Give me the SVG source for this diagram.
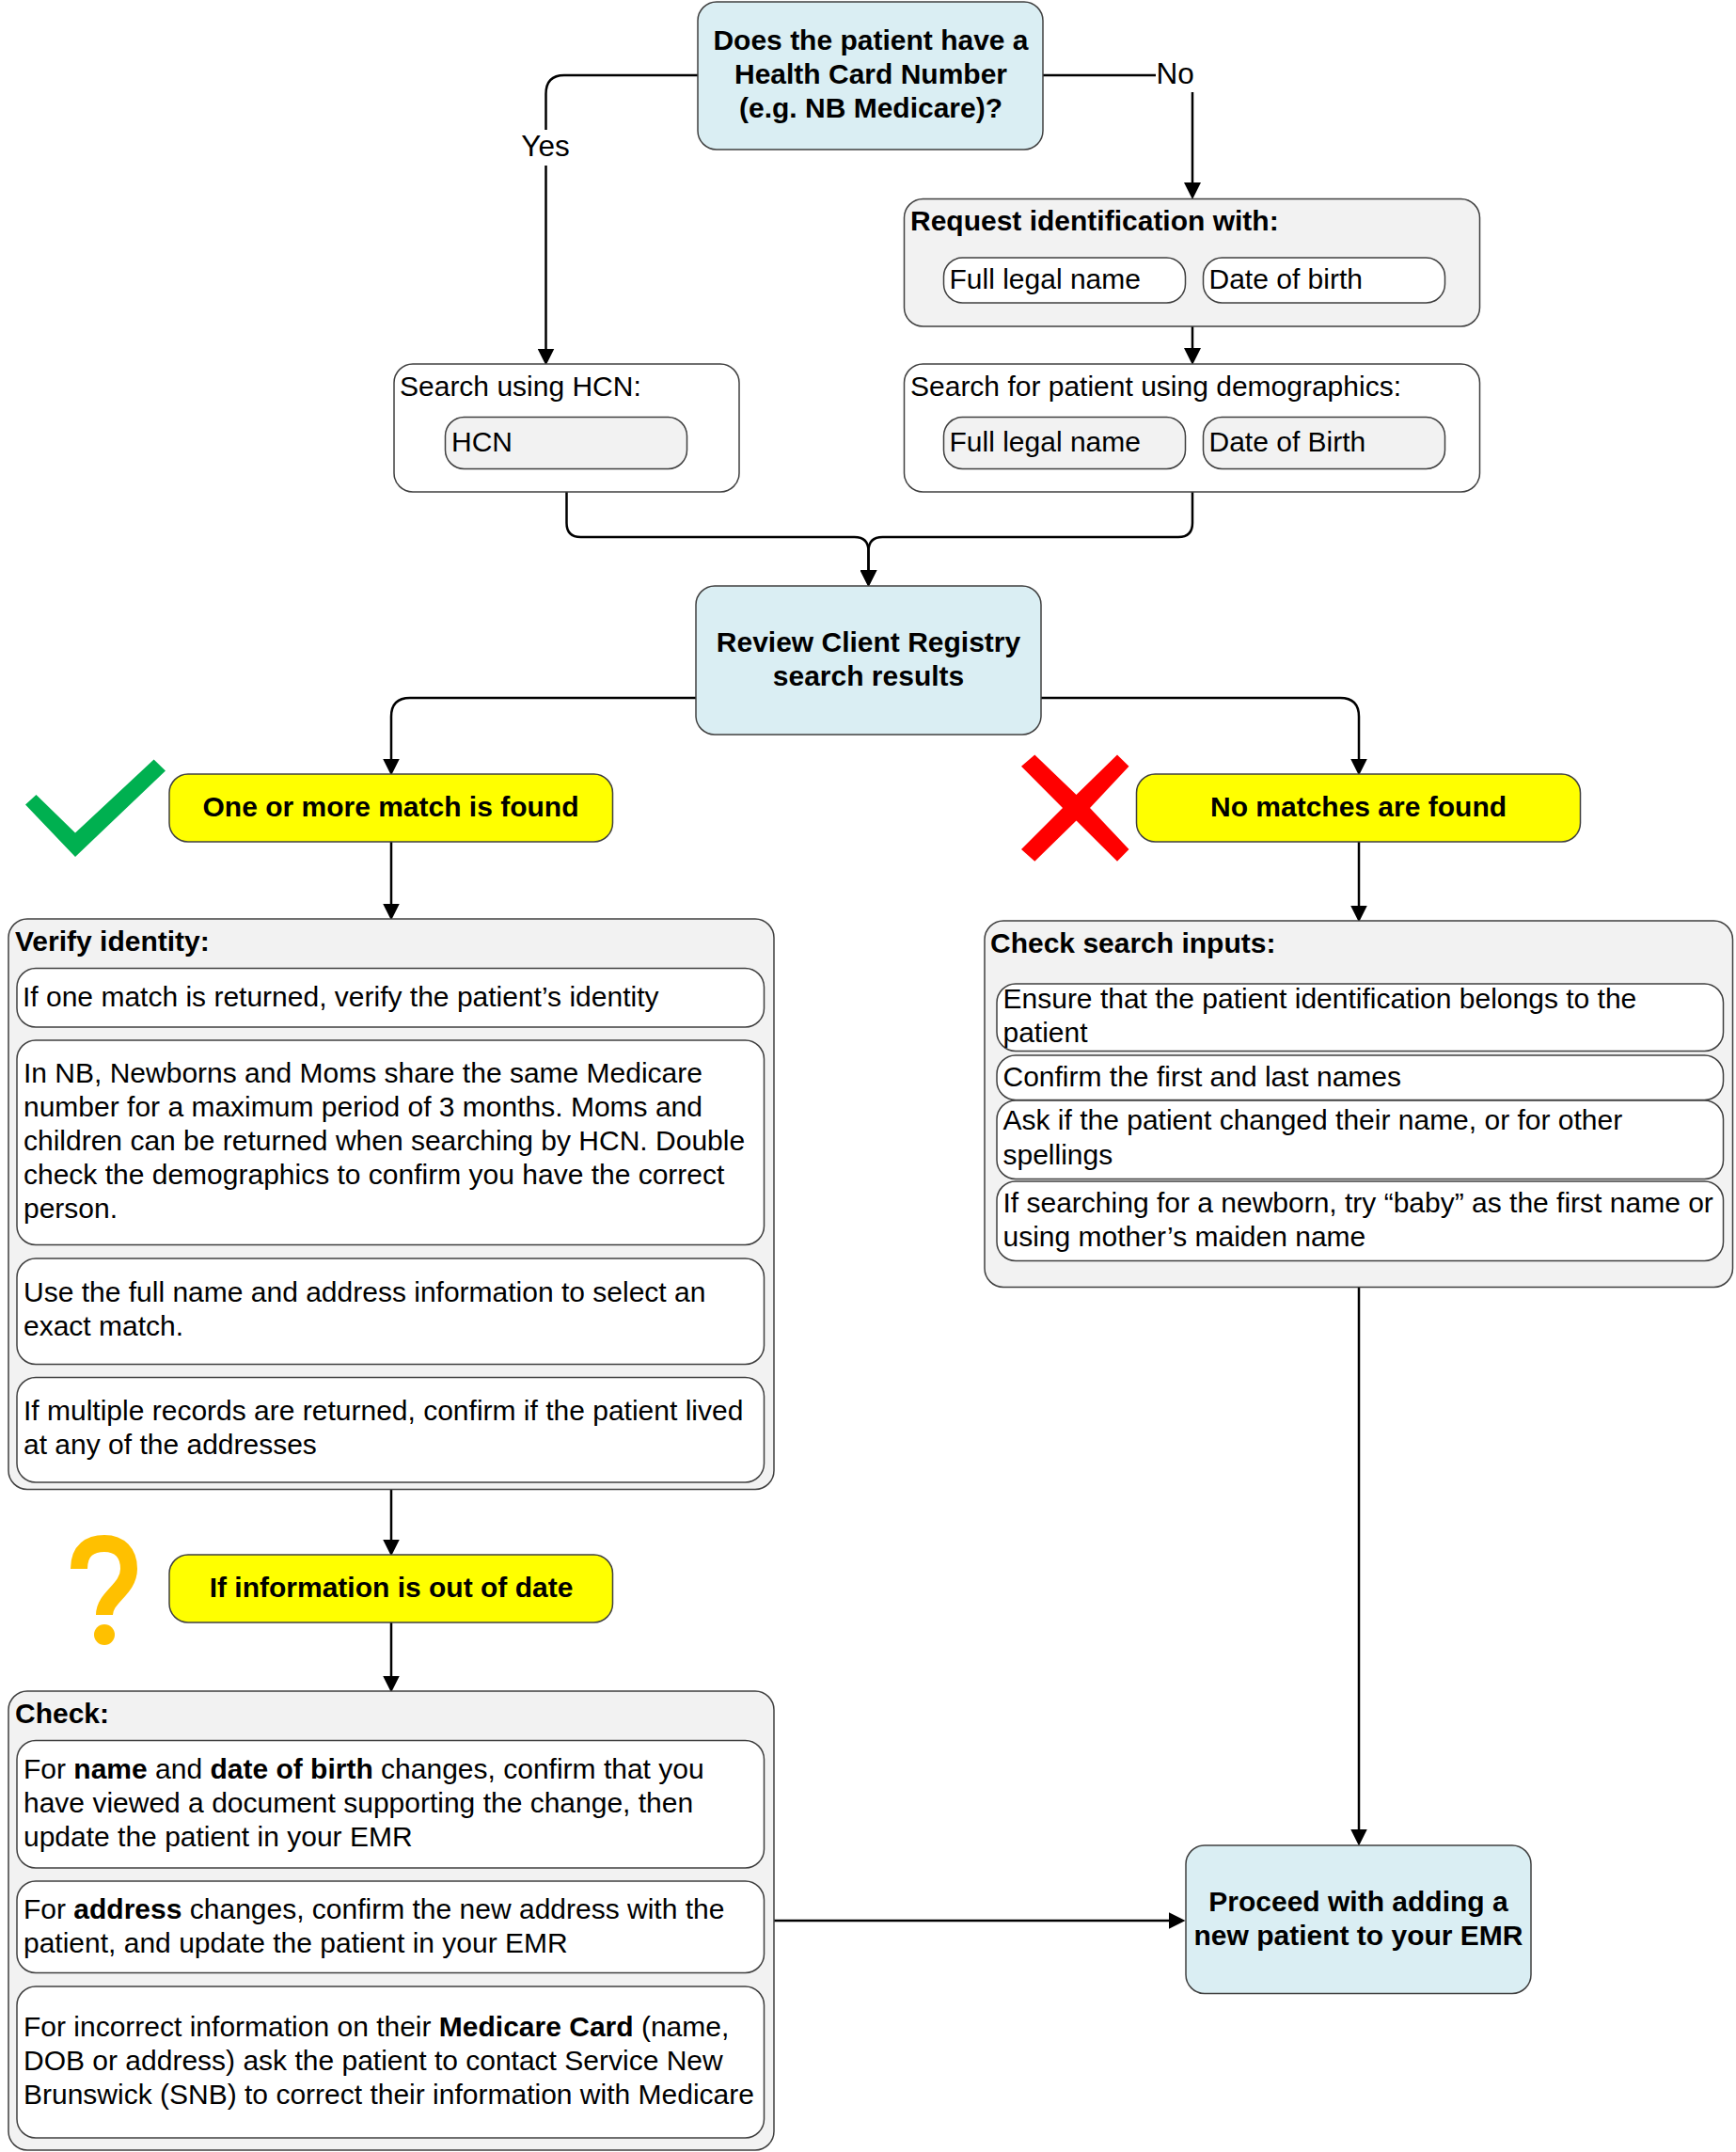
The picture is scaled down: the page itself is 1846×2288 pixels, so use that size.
<svg xmlns="http://www.w3.org/2000/svg" width="1846" height="2288" viewBox="0 0 1846 2288">
<style>
text{font-family:"Liberation Sans",Arial,sans-serif;font-size:30px;fill:#000}
.b{font-weight:700}
.m{text-anchor:middle}
.l{font-size:31.500px}
.box{stroke:#404040;stroke-width:1.5}
.blue{fill:#DAEEF3}.gray{fill:#F2F2F2}.white{fill:#FFF}.yellow{fill:#FF0}
.c{fill:none;stroke:#000;stroke-width:2.500}
</style>
<defs><marker id="arrow" markerUnits="userSpaceOnUse" markerWidth="18" markerHeight="18" viewBox="0 0 16 16" refX="8" refY="8" orient="auto"><path d="M0,0L16,8L0,16z" fill="#000"/></marker></defs>
<rect width="1846" height="2288" fill="#FFF"/>
<g id="connectors">
<path class="c" d="M742,80H600Q580.500,80 580.500,100V379.500" marker-end="url(#arrow)"/>
<path class="c" d="M1109,80H1268V203" marker-end="url(#arrow)"/>
<path class="c" d="M1268,347V379" marker-end="url(#arrow)"/>
<path class="c" d="M602.500,523V556Q602.500,571 617.500,571H908.500Q923.500,571 923.500,586V615" marker-end="url(#arrow)"/>
<path class="c" d="M1268,523V556Q1268,571 1253,571H938.500Q923.500,571 923.500,586V615" marker-end="url(#arrow)"/>
<path class="c" d="M740,742H436Q416,742 416,762V815.500" marker-end="url(#arrow)"/>
<path class="c" d="M1107,742H1425Q1445,742 1445,762V815.500" marker-end="url(#arrow)"/>
<path class="c" d="M416,895V969.500" marker-end="url(#arrow)"/>
<path class="c" d="M1445,895V971.500" marker-end="url(#arrow)"/>
<path class="c" d="M416,1584V1645.500" marker-end="url(#arrow)"/>
<path class="c" d="M416,1725V1790.500" marker-end="url(#arrow)"/>
<path class="c" d="M1445,1369V1953.500" marker-end="url(#arrow)"/>
<path class="c" d="M823,2042H1251.500" marker-end="url(#arrow)"/>
</g>
<g id="label-yes"><rect x="552" y="138" width="58" height="38" fill="#FFF"/><text class="m l" x="580" y="166">Yes</text></g>
<g id="label-no"><rect x="1229" y="62" width="41" height="36" fill="#FFF"/><text class="l" x="1229.500" y="89">No</text></g>
<g id="n-question"><rect class="box blue" x="742" y="2" width="367" height="157" rx="20"/><text class="b m" x="926" y="53">Does the patient have a</text><text class="b m" x="926" y="89">Health Card Number</text><text class="b m" x="926" y="125">(e.g. NB Medicare)?</text></g>
<g id="n-request"><rect class="box gray" x="961.500" y="211.500" width="612" height="135.500" rx="20"/><text class="b" x="968" y="245">Request identification with:</text>
<rect class="box white" x="1003.500" y="274" width="257" height="48" rx="20"/><text x="1009.500" y="307">Full legal name</text>
<rect class="box white" x="1279.500" y="274" width="257" height="48" rx="20"/><text x="1285.500" y="307">Date of birth</text></g>
<g id="n-search-hcn"><rect class="box white" x="419" y="387" width="367" height="136" rx="20"/><text x="425" y="421">Search using HCN:</text>
<rect class="box gray" x="473.500" y="443.500" width="257" height="55" rx="20"/><text x="480" y="480">HCN</text></g>
<g id="n-search-demo"><rect class="box white" x="961.500" y="387" width="612" height="136" rx="20"/><text x="968" y="421">Search for patient using demographics:</text>
<rect class="box gray" x="1003.500" y="443.500" width="257" height="55" rx="20"/><text x="1009.500" y="480">Full legal name</text>
<rect class="box gray" x="1279.500" y="443.500" width="257" height="55" rx="20"/><text x="1285.500" y="480">Date of Birth</text></g>
<g id="n-review"><rect class="box blue" x="740" y="623" width="367" height="158" rx="20"/><text class="b m" x="923.500" y="692.500">Review Client Registry</text><text class="b m" x="923.500" y="728.500">search results</text></g>
<g id="n-match"><rect class="box yellow" x="180" y="823" width="471.500" height="72" rx="20"/><text class="b m" x="415.500" y="867.500">One or more match is found</text></g>
<g id="icon-check"><polygon points="27,855.500 38.500,845 80,885.500 163.600,807.500 176,819.500 80,911" fill="#00B050"/></g>
<g id="n-nomatch"><rect class="box yellow" x="1208.500" y="823" width="472" height="72" rx="20"/><text class="b m" x="1444.500" y="867.500">No matches are found</text></g>
<g id="icon-cross"><polygon points="1100.300,802.500 1144.500,845 1188,802.500 1200.500,814.700 1159,858.900 1200.500,903 1188,915.700 1144.500,872.400 1100.300,915.700 1086,903 1130,858.900 1086,814.700" fill="#F00"/></g>
<g id="n-verify"><rect class="box gray" x="9" y="977" width="814" height="606.500" rx="20"/><text class="b" x="16" y="1010.500">Verify identity:</text>
<rect class="box white" x="18" y="1029.500" width="794.500" height="62.500" rx="20"/><text x="24" y="1070">If one match is returned, verify the patient’s identity</text>
<rect class="box white" x="18" y="1106" width="794.500" height="217.500" rx="20"/><text x="25" y="1151">In NB, Newborns and Moms share the same Medicare</text><text x="25" y="1187">number for a maximum period of 3 months. Moms and</text><text x="25" y="1223">children can be returned when searching by HCN. Double</text><text x="25" y="1259">check the demographics to confirm you have the correct</text><text x="25" y="1295">person.</text>
<rect class="box white" x="18" y="1338" width="794.500" height="112.500" rx="20"/><text x="25" y="1384">Use the full name and address information to select an</text><text x="25" y="1420">exact match.</text>
<rect class="box white" x="18" y="1464.500" width="794.500" height="111.500" rx="20"/><text x="25" y="1510">If multiple records are returned, confirm if the patient lived</text><text x="25" y="1546">at any of the addresses</text></g>
<g id="n-inputs"><rect class="box gray" x="1047" y="979" width="795.500" height="389.500" rx="20"/><text class="b" x="1053" y="1012.500">Check search inputs:</text>
<rect class="box white" x="1060" y="1046" width="772.500" height="71.500" rx="20"/><text x="1066.500" y="1072">Ensure that the patient identification belongs to the</text><text x="1066.500" y="1108">patient</text>
<rect class="box white" x="1060" y="1122" width="772.500" height="47.500" rx="20"/><text x="1066.500" y="1155">Confirm the first and last names</text>
<rect class="box white" x="1060" y="1170" width="772.500" height="83.500" rx="20"/><text x="1066.500" y="1201">Ask if the patient changed their name, or for other</text><text x="1066.500" y="1238">spellings</text>
<rect class="box white" x="1060" y="1256" width="772.500" height="84.500" rx="20"/><text x="1066.500" y="1289">If searching for a newborn, try “baby” as the first name or</text><text x="1066.500" y="1325">using mother’s maiden name</text></g>
<g id="n-outofdate"><rect class="box yellow" x="180" y="1653" width="471.500" height="72" rx="20"/><text class="b m" x="416" y="1698">If information is out of date</text></g>
<g id="icon-question"><path d="M84,1668C84,1648 96,1641 111,1641C127,1641 137,1651 137,1668C137,1690 111,1698 111,1717" fill="none" stroke="#FFC000" stroke-width="18"/><ellipse cx="111" cy="1738" rx="11" ry="11" fill="#FFC000"/></g>
<g id="n-check"><rect class="box gray" x="9" y="1798" width="814" height="488" rx="20"/><text class="b" x="16" y="1831.500">Check:</text>
<rect class="box white" x="18" y="1850.500" width="794.500" height="135.500" rx="20"/><text x="25" y="1890.500">For <tspan class="b">name</tspan> and <tspan class="b">date of birth</tspan> changes, confirm that you</text><text x="25" y="1926.500">have viewed a document supporting the change, then</text><text x="25" y="1962.500">update the patient in your EMR</text>
<rect class="box white" x="18" y="2000" width="794.500" height="97.500" rx="20"/><text x="25" y="2039.500">For <tspan class="b">address</tspan> changes, confirm the new address with the</text><text x="25" y="2075.500">patient, and update the patient in your EMR</text>
<rect class="box white" x="18" y="2112" width="794.500" height="161" rx="20"/><text x="25" y="2164.500">For incorrect information on their <tspan class="b">Medicare Card</tspan> (name,</text><text x="25" y="2200.500">DOB or address) ask the patient to contact Service New</text><text x="25" y="2236.500">Brunswick (SNB) to correct their information with Medicare</text></g>
<g id="n-proceed"><rect class="box blue" x="1261" y="1962" width="367" height="157.500" rx="20"/><text class="b m" x="1444.500" y="2032">Proceed with adding a</text><text class="b m" x="1444.500" y="2068">new patient to your EMR</text></g>
</svg>
